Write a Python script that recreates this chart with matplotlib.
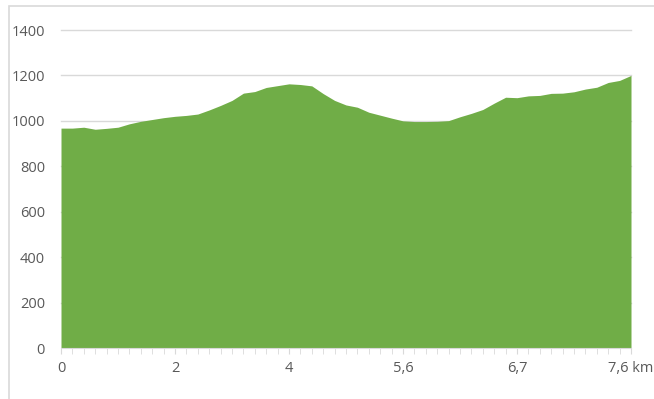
import matplotlib.pyplot as plt
import numpy as np
from matplotlib.patches import Rectangle

# elevation profile sampled at 51 equally spaced points along the route
elevation = [968, 968, 972, 963, 967, 972, 987, 998, 1006, 1014,
             1020, 1024, 1030, 1048, 1068, 1090, 1122, 1129, 1147, 1155,
             1163, 1160, 1154, 1120, 1090, 1070, 1060, 1038, 1025, 1012,
             1000, 997, 997, 998, 1001, 1018, 1033, 1050, 1078, 1104,
             1102, 1110, 1112, 1121, 1122, 1128, 1140, 1148, 1169, 1178,
             1200]
label_pos = [0, 10, 20, 30, 40, 50]
labels = ['0', '2', '4', '5,6', '6,7', '7,6 km']
yticks = [0, 200, 400, 600, 800, 1000, 1200, 1400]

plt.rcParams['font.family'] = ['Open Sans', 'DejaVu Sans']
txt = '#595959'
grid = '#d9d9d9'

fig = plt.figure(figsize=(6.54, 3.99), dpi=100)
ax = fig.add_axes([61 / 654, 1 - 348 / 399, 570 / 654, 318 / 399])

x = np.arange(len(elevation))
ax.fill_between(x, 0, elevation, color='#70AD47', linewidth=0, zorder=2)

ax.set_xlim(0, len(elevation) - 1)
ax.set_ylim(0, 1400)
ax.set_yticks(yticks)
ax.set_yticklabels([str(v) for v in yticks], color=txt, fontsize=10.5)
ax.set_xticks(label_pos)
ax.set_xticklabels(labels, color=txt, fontsize=10.5)
ax.set_xticks(x, minor=True)
ax.tick_params(axis='y', length=0, pad=11.5)
ax.tick_params(axis='x', which='both', length=4, color=grid, pad=5)

for v in yticks[1:]:
    ax.axhline(v, color=grid, linewidth=1, zorder=1, clip_on=False)

for s in ['top', 'right', 'left']:
    ax.spines[s].set_visible(False)
ax.spines['bottom'].set_color(grid)
ax.spines['bottom'].set_zorder(3)

# light outer frame; only its left and top edges fall inside the figure
fig.patches.append(Rectangle((9 / 654, -0.05), 1.0, 1 - 6 / 399 + 0.05,
                             transform=fig.transFigure, fill=False,
                             edgecolor=grid, linewidth=1.2))

fig.savefig('out.png', dpi=100)
